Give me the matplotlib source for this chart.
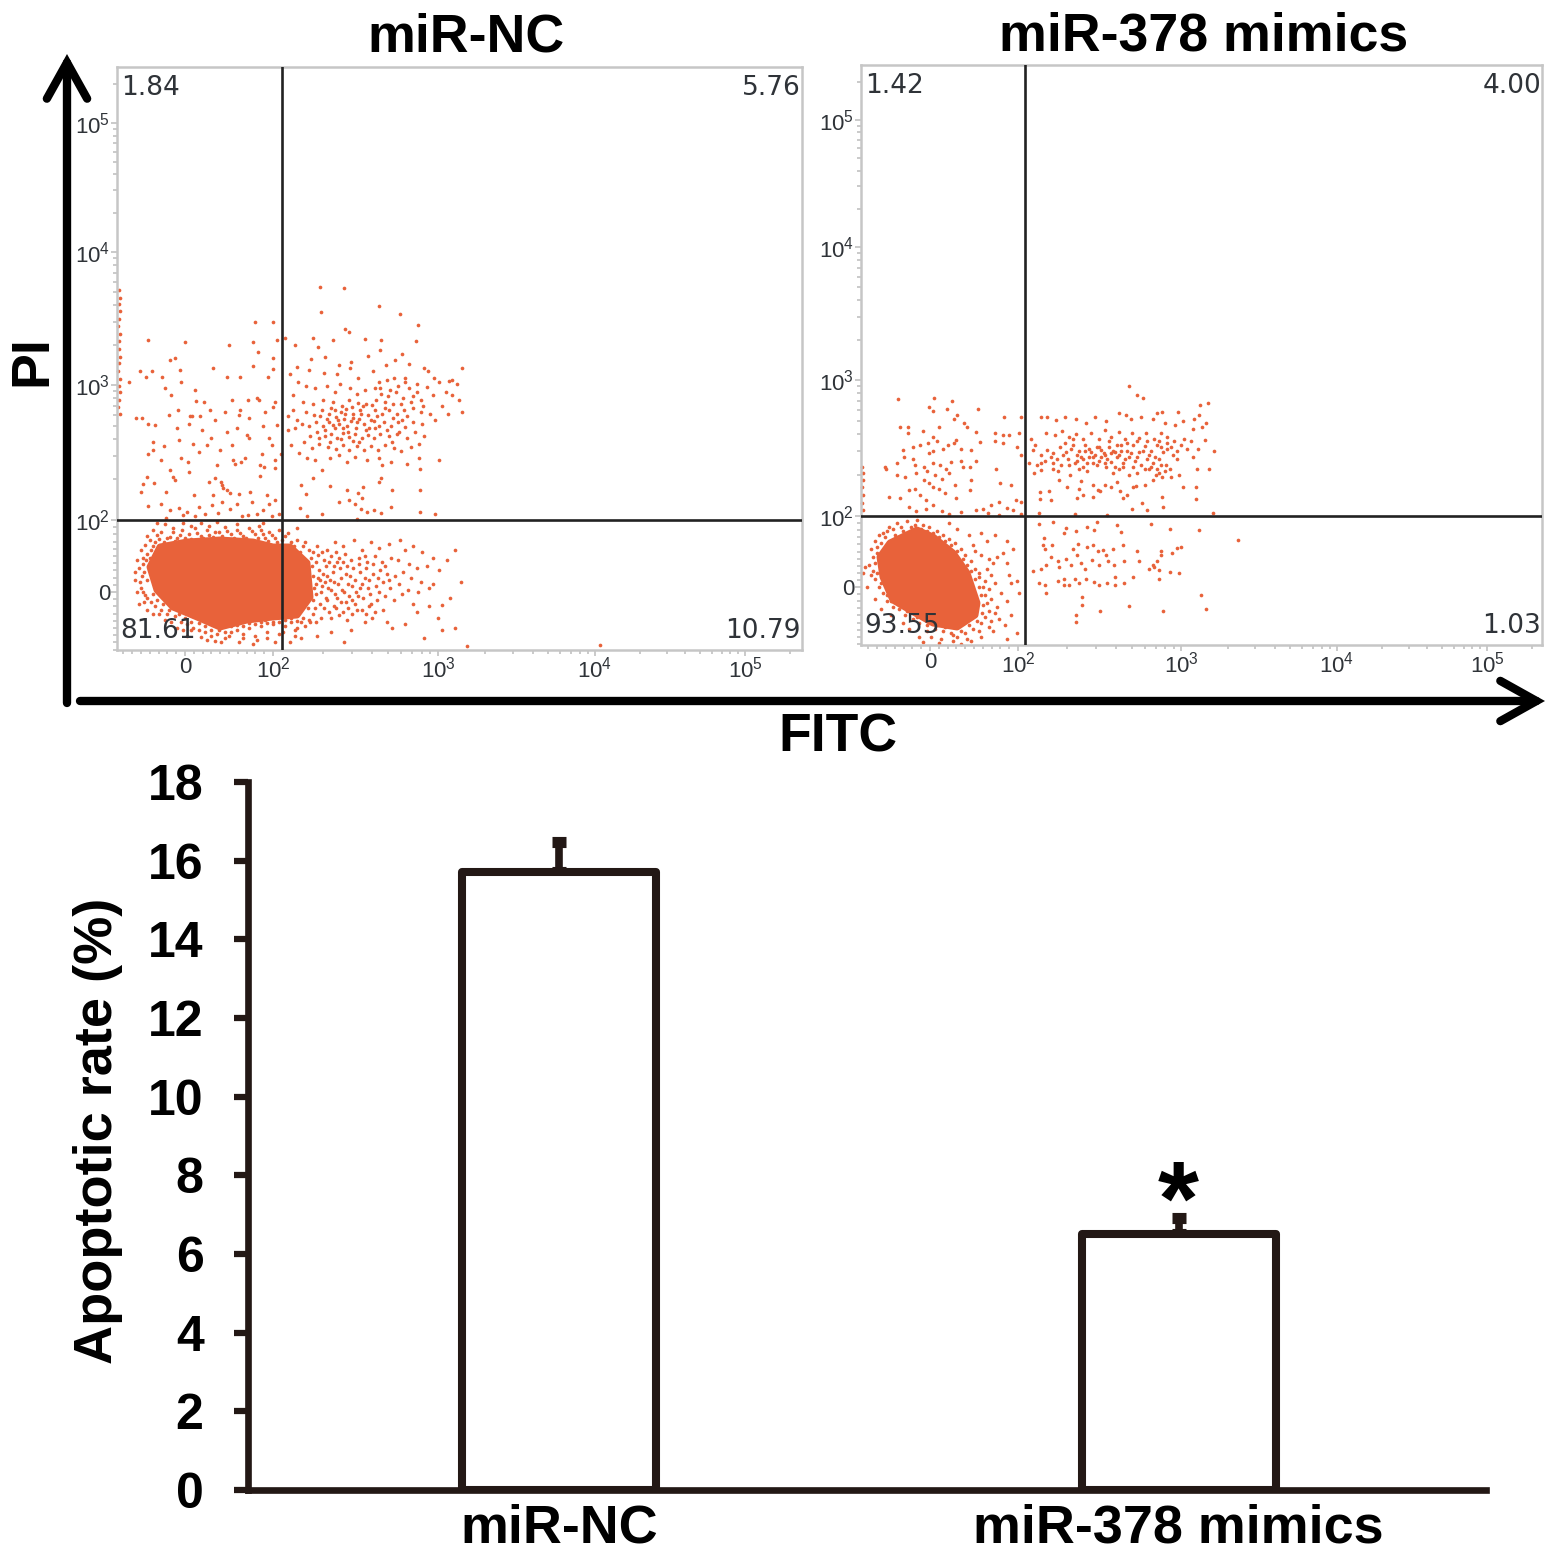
import numpy as np
import matplotlib
matplotlib.use("Agg")
import matplotlib.pyplot as plt
from matplotlib.patches import FancyArrowPatch

W, H = 1559, 1558

# Flow panels: values are display channels
nc_x_ticks = [68, 156, 321, 478, 628]
nc_y_ticks = [58, 130, 265, 398, 527]
mimic_x_ticks = [69, 157, 320, 476, 626]
mimic_y_ticks = [58, 129, 265, 398, 525]
x_tick_labels = ["0", "$10^{2}$", "$10^{3}$", "$10^{4}$", "$10^{5}$"]
y_tick_labels = ["0", "$10^{2}$", "$10^{3}$", "$10^{4}$", "$10^{5}$"]

nc_gate = (165, 130)
mimic_gate = (164, 129)
nc_percent = ["1.84", "5.76", "81.61", "10.79"]
mimic_percent = ["1.42", "4.00", "93.55", "1.03"]

# dense part of the population, as an outline
nc_core = [(33, 83), (43, 103), (70, 108), (103, 110), (136, 108), (156, 103), (173, 103), (190, 87),
           (193, 53), (180, 35), (156, 33), (130, 30), (103, 23), (80, 33), (56, 43), (40, 60)]
mimic_core = [(19, 88), (29, 102), (56, 115), (72, 108), (92, 92), (106, 72), (116, 42), (114, 30),
              (96, 18), (72, 22), (49, 35), (32, 45), (22, 68)]

nc_edge = [(2, 360), (3, 352), (2, 346), (3, 339), (2, 331), (1, 324), (3, 316), (2, 309), (2, 301), (3, 293),
           (2, 287), (1, 279), (3, 271), (2, 264), (3, 258), (2, 250), (1, 243), (3, 236)]
nc_upper_left = [(31, 310), (68, 308), (112, 305), (138, 328), (156, 328), (136, 308), (141, 298), (160, 310),
                 (53, 290), (58, 292), (23, 279), (35, 279), (29, 273), (45, 273), (63, 280), (96, 282),
                 (110, 273), (123, 273), (136, 284), (151, 273), (156, 292), (156, 281), (12, 268), (48, 262),
                 (54, 255), (64, 268), (78, 260), (79, 249), (87, 248), (93, 240), (115, 250), (123, 240),
                 (131, 250), (140, 252), (142, 250), (158, 248), (19, 232), (25, 232), (31, 226), (52, 235),
                 (61, 240), (73, 234), (75, 234), (83, 234), (98, 230), (108, 238), (122, 235), (132, 232),
                 (148, 238), (156, 243), (38, 225), (60, 222), (72, 226), (85, 220), (94, 212), (110, 218),
                 (120, 222), (130, 215), (132, 212), (146, 224), (152, 212), (160, 225), (36, 208), (36, 200),
                 (47, 204), (62, 210), (76, 206), (90, 205), (103, 200), (115, 205), (145, 196), (155, 205),
                 (31, 196), (44, 190), (64, 192), (71, 188), (82, 198), (100, 185), (116, 190), (118, 186),
                 (124, 188), (128, 192), (143, 185), (147, 183), (158, 190), (164, 196), (30, 173), (37, 167),
                 (53, 180), (56, 173), (58, 170), (72, 178), (92, 168), (98, 172), (104, 168), (110, 160),
                 (105, 165), (143, 174), (158, 182), (26, 166), (24, 158), (49, 158), (77, 155), (96, 155),
                 (106, 162), (113, 157), (122, 156), (133, 158), (150, 155), (44, 146), (53, 140), (62, 142),
                 (70, 138), (82, 143), (95, 145), (105, 148), (113, 141), (120, 146), (135, 148), (146, 140),
                 (152, 146), (158, 150), (162, 136), (31, 144), (49, 132), (66, 135), (78, 134), (88, 136),
                 (101, 137), (125, 134), (131, 135), (140, 136), (155, 134)]
nc_upper_right = [(203, 363), (227, 362), (204, 338), (228, 321), (262, 344), (283, 336), (168, 312), (178, 305),
                  (196, 312), (201, 303), (216, 310), (232, 318), (248, 311), (264, 310), (301, 325), (299, 309),
                  (263, 300), (251, 294), (234, 288), (222, 285), (208, 293), (194, 291), (180, 283), (173, 276),
                  (181, 268), (192, 280), (207, 277), (220, 276), (233, 282), (241, 272), (256, 279), (269, 285),
                  (278, 290), (285, 296), (292, 286), (307, 282), (311, 279), (317, 272), (288, 272), (277, 272),
                  (270, 270), (262, 268), (176, 255), (189, 264), (198, 262), (210, 264), (218, 258), (223, 266),
                  (233, 262), (240, 256), (248, 260), (258, 262), (264, 256), (273, 260), (281, 264), (292, 262),
                  (300, 266), (310, 263), (322, 268), (335, 270), (340, 266), (335, 255), (342, 250), (345, 238),
                  (316, 255), (304, 250), (296, 254), (286, 252), (276, 246), (268, 248), (259, 250), (249, 246),
                  (241, 247), (232, 250), (225, 244), (216, 248), (206, 250), (196, 246), (186, 248), (176, 240),
                  (171, 234), (180, 230), (189, 238), (197, 235), (205, 240), (212, 236), (219, 233), (224, 238),
                  (229, 241), (236, 236), (243, 240), (251, 235), (258, 240), (265, 236), (272, 240), (280, 236),
                  (287, 240), (296, 242), (304, 238), (313, 236), (325, 244), (331, 236), (171, 220), (178, 222),
                  (185, 226), (192, 224), (199, 228), (206, 224), (212, 228), (218, 222), (222, 226), (227, 231),
                  (230, 224), (234, 229), (239, 222), (242, 231), (247, 226), (252, 222), (257, 229), (262, 224),
                  (267, 228), (274, 224), (281, 228), (288, 223), (296, 228), (305, 226), (318, 230), (193, 214),
                  (200, 218), (208, 214), (214, 216), (220, 212), (226, 217), (232, 213), (238, 216), (245, 212),
                  (251, 215), (257, 212), (263, 216), (272, 214), (280, 216), (290, 212), (298, 218), (307, 214),
                  (187, 208), (195, 202), (202, 206), (211, 203), (219, 201), (226, 205), (232, 200), (240, 204),
                  (247, 200), (254, 204), (261, 200), (268, 205), (277, 202), (284, 199), (294, 203), (302, 206),
                  (174, 205), (182, 197), (190, 192), (198, 190), (213, 192), (222, 195), (230, 188), (238, 193),
                  (250, 190), (262, 192), (265, 185), (274, 188), (290, 186), (302, 192), (303, 181), (322, 190),
                  (184, 165), (189, 156), (196, 172), (205, 180), (213, 164), (230, 160), (241, 157), (246, 163),
                  (262, 168), (264, 172), (275, 160), (303, 160), (222, 148), (232, 150), (238, 146), (244, 141),
                  (250, 138), (257, 140), (245, 152), (183, 142), (190, 134), (205, 136), (240, 131), (264, 137),
                  (274, 143), (303, 138), (318, 136), (180, 122), (345, 282), (332, 269), (329, 258)]
nc_upper_right_dense = [(214, 242), (221, 230), (228, 236), (235, 243), (218, 240), (226, 222), (240, 228), (246, 244),
                        (254, 230), (210, 231), (203, 234), (231, 218), (224, 211), (236, 209), (249, 220), (260, 234),
                        (268, 242), (276, 232), (284, 246), (290, 234), (282, 218), (270, 220), (258, 222), (242, 208),
                        (216, 225), (208, 220), (202, 212), (213, 208), (236, 232), (244, 236), (255, 245), (263, 262),
                        (271, 254), (279, 258), (288, 268), (294, 248), (300, 258), (306, 244), (285, 230), (275, 208)]
nc_lower_right = [(192, 100), (200, 104), (210, 100), (218, 108), (226, 104), (237, 110), (245, 100), (254, 108),
                  (262, 102), (272, 106), (283, 110), (288, 100), (296, 104), (305, 98), (316, 92), (330, 90),
                  (338, 100), (194, 92), (201, 95), (207, 90), (214, 94), (220, 88), (228, 96), (234, 90),
                  (242, 92), (250, 88), (258, 94), (265, 88), (274, 92), (281, 90), (292, 86), (300, 82),
                  (310, 84), (322, 80), (195, 84), (202, 80), (209, 84), (216, 78), (223, 82), (229, 76),
                  (236, 82), (243, 78), (249, 82), (256, 76), (263, 80), (270, 76), (278, 74), (286, 78),
                  (294, 72), (304, 68), (196, 74), (203, 70), (210, 74), (217, 68), (224, 72), (231, 66),
                  (238, 70), (245, 66), (252, 70), (259, 64), (266, 68), (273, 62), (282, 66), (291, 60),
                  (301, 58), (312, 62), (197, 62), (204, 58), (211, 62), (218, 56), (225, 60), (232, 54),
                  (239, 58), (246, 52), (253, 56), (260, 50), (268, 54), (277, 50), (285, 56), (296, 46),
                  (316, 66), (196, 50), (203, 46), (210, 50), (217, 44), (224, 48), (231, 42), (238, 46),
                  (245, 40), (252, 44), (258, 38), (248, 28), (255, 32), (266, 40), (230, 30), (222, 35),
                  (212, 38), (204, 32), (196, 36), (188, 24), (178, 20), (184, 12), (200, 14), (214, 18),
                  (227, 8), (234, 20), (270, 28), (275, 22), (288, 26), (307, 12), (321, 32), (338, 22),
                  (325, 20), (300, 38), (344, 68), (333, 52), (325, 45), (312, 44), (350, 4), (483, 5)]
nc_lower_right_dense = [(196, 98), (199, 88), (205, 98), (206, 76), (212, 88), (213, 70), (219, 98), (222, 92),
                        (226, 88), (230, 84), (233, 74), (199, 66), (205, 64), (209, 52), (214, 60), (220, 52),
                        (221, 66), (227, 58), (229, 48), (235, 50), (235, 64), (241, 54), (243, 62), (248, 72),
                        (251, 62), (242, 86), (248, 94), (256, 86), (261, 72), (268, 84), (198, 42), (207, 42),
                        (214, 32), (219, 42), (226, 38), (235, 36), (199, 56), (201, 72), (208, 68), (217, 84),
                        (240, 40), (249, 36), (254, 46), (262, 58), (272, 70), (199, 28), (193, 28), (191, 42)]
nc_fringe = [(20, 90), (24, 100), (22, 82), (18, 70), (20, 58), (24, 62), (27, 48), (22, 46), (30, 40), (26, 92),
             (30, 96), (34, 100), (28, 105), (38, 108), (30, 114), (40, 115), (36, 120), (44, 118), (50, 112),
             (56, 118), (60, 112), (65, 120), (72, 116), (78, 122), (84, 114), (90, 120), (96, 113), (102, 118),
             (108, 123), (114, 116), (120, 120), (126, 114), (132, 122), (138, 116), (144, 120), (148, 112),
             (152, 118), (158, 112), (162, 120), (168, 114), (174, 108), (180, 110), (186, 104), (30, 70),
             (27, 78), (28, 55), (34, 48), (38, 44), (44, 40), (50, 36), (58, 34), (64, 28), (70, 26), (76, 22),
             (82, 20), (88, 18), (94, 14), (100, 16), (108, 12), (114, 18), (120, 20), (126, 16), (132, 22),
             (138, 14), (144, 24), (150, 18), (156, 26), (162, 16), (168, 24), (174, 28), (180, 22), (90, 10),
             (104, 8), (122, 8), (136, 6), (140, 10), (158, 8), (60, 22), (70, 14), (74, 20), (18, 78),
             (48, 126), (66, 127), (84, 127), (100, 128), (146, 127), (40, 127), (148, 30), (184, 28), (192, 30),
             (26, 86), (29, 90), (25, 74), (23, 68), (26, 58), (30, 52), (33, 92), (36, 104), (33, 110), (42, 111),
             (47, 108), (53, 113), (58, 109), (63, 115), (68, 112), (74, 111), (80, 117), (86, 112), (92, 115),
             (98, 118), (105, 114), (110, 119), (117, 112), (123, 117), (129, 112), (135, 119), (141, 112),
             (146, 116), (151, 109), (155, 115), (160, 108), (165, 110), (171, 117), (177, 104), (183, 98),
             (188, 108), (142, 124), (120, 126), (56, 122), (74, 124), (92, 124), (36, 56), (40, 50), (46, 46),
             (52, 40), (56, 42), (62, 36), (68, 32), (74, 28), (82, 27), (88, 24), (94, 20), (102, 20), (108, 18),
             (114, 24), (120, 25), (126, 24), (132, 27), (138, 26), (144, 28), (150, 27), (156, 28), (162, 28),
             (168, 30), (174, 32), (180, 29), (186, 32), (42, 36), (36, 36), (48, 30), (54, 28), (66, 20), (84, 13),
             (98, 9), (112, 14), (126, 12), (150, 12), (166, 18), (178, 14), (173, 8)]

mimic_edge = [(1, 178), (2, 172), (2, 165), (1, 158), (2, 150), (1, 142), (2, 135)]
mimic_upper_left = [(37, 246), (73, 247), (91, 244), (68, 238), (72, 234), (86, 236), (117, 236), (93, 226),
                    (96, 230), (103, 222), (143, 228), (160, 228), (39, 218), (47, 218), (47, 212), (62, 214),
                    (78, 218), (106, 218), (115, 213), (134, 212), (142, 210), (148, 210), (158, 212), (72, 208),
                    (76, 204), (67, 202), (52, 198), (59, 200), (42, 195), (68, 192), (72, 194), (82, 196),
                    (87, 200), (93, 202), (95, 205), (100, 196), (110, 195), (119, 203), (134, 204), (142, 202),
                    (156, 198), (160, 190), (25, 176), (24, 178), (36, 182), (43, 188), (52, 186), (54, 180),
                    (63, 178), (66, 174), (72, 182), (79, 180), (85, 176), (90, 183), (100, 184), (102, 178),
                    (109, 178), (115, 184), (135, 176), (36, 170), (44, 168), (55, 172), (63, 165), (68, 162),
                    (74, 170), (81, 166), (88, 172), (94, 160), (110, 165), (139, 162), (150, 160), (28, 148),
                    (39, 147), (48, 155), (54, 156), (59, 150), (65, 145), (72, 158), (78, 156), (84, 152),
                    (95, 147), (109, 155), (130, 140), (138, 143), (146, 137), (155, 145), (48, 138), (55, 134),
                    (65, 136), (72, 140), (81, 134), (88, 131), (100, 133), (115, 135), (122, 136), (127, 132),
                    (152, 135), (160, 131), (160, 143), (138, 130)]
mimic_upper_right = [(268, 259), (276, 250), (282, 247), (296, 232), (301, 233), (317, 233), (339, 240), (347, 242),
                     (338, 230), (333, 226), (345, 222), (341, 218), (180, 228), (186, 228), (195, 225), (204, 228),
                     (215, 226), (225, 222), (234, 228), (245, 224), (258, 232), (265, 230), (270, 226), (280, 228),
                     (292, 226), (304, 222), (314, 220), (322, 224), (332, 216), (170, 206), (174, 200), (185, 212),
                     (194, 210), (201, 214), (208, 208), (215, 211), (222, 206), (230, 212), (238, 206), (244, 215),
                     (250, 208), (258, 213), (264, 206), (271, 212), (278, 207), (285, 212), (293, 206), (300, 212),
                     (306, 208), (313, 204), (323, 206), (330, 204), (344, 205), (172, 195), (180, 190), (186, 195),
                     (192, 192), (199, 198), (205, 193), (212, 200), (218, 194), (224, 200), (230, 193), (236, 198),
                     (243, 192), (248, 198), (254, 193), (260, 200), (266, 194), (272, 200), (278, 193), (284, 199),
                     (290, 194), (296, 200), (302, 193), (310, 198), (316, 194), (326, 196), (337, 196), (353, 194),
                     (168, 182), (176, 180), (184, 184), (192, 182), (200, 180), (207, 186), (214, 182), (220, 188),
                     (226, 182), (232, 188), (238, 184), (244, 190), (250, 183), (256, 188), (262, 182), (268, 188),
                     (274, 184), (280, 180), (286, 186), (292, 182), (298, 186), (305, 180), (316, 186), (332, 188),
                     (173, 172), (180, 175), (197, 174), (209, 170), (218, 176), (226, 174), (245, 178), (252, 172),
                     (258, 176), (268, 170), (276, 172), (288, 176), (298, 172), (301, 168), (310, 168), (318, 170),
                     (336, 176), (348, 176), (198, 165), (220, 164), (244, 160), (256, 163), (272, 158), (284, 160),
                     (292, 165), (295, 170), (322, 158), (335, 158), (188, 154), (206, 158), (218, 156), (232, 160),
                     (237, 155), (250, 158), (259, 154), (266, 150), (275, 159), (301, 148), (335, 146), (179, 153),
                     (179, 146), (190, 145), (216, 147), (222, 150), (232, 148), (239, 154), (262, 147), (271, 136),
                     (281, 142), (302, 138), (286, 135), (352, 132), (178, 132), (214, 131), (246, 130)]
mimic_band = [(210, 196), (216, 190), (222, 186), (228, 196), (234, 190), (240, 195), (246, 186), (252, 194),
              (258, 190), (264, 186), (270, 192), (276, 188), (282, 194), (288, 190), (294, 188), (300, 198),
              (306, 196), (312, 190), (204, 202), (212, 206), (224, 194), (238, 198), (248, 204), (256, 200),
              (266, 202), (276, 204), (286, 204), (298, 204), (306, 202), (320, 200), (216, 184), (222, 178),
              (236, 180), (244, 182), (254, 178), (262, 178), (272, 178), (284, 176), (290, 178), (300, 180),
              (304, 174), (309, 176), (296, 176), (240, 188), (250, 192), (260, 194), (228, 188), (232, 182),
              (190, 188), (196, 186), (202, 190), (208, 180), (180, 182), (192, 176)]
mimic_lower_right = [(178, 121), (192, 123), (215, 114), (205, 117), (226, 118), (236, 123), (233, 115), (256, 120),
                     (260, 113), (290, 121), (309, 116), (338, 115), (183, 107), (182, 100), (184, 96), (191, 100),
                     (203, 112), (212, 96), (217, 101), (226, 98), (232, 100), (242, 95), (237, 94), (245, 90),
                     (252, 96), (262, 100), (276, 94), (300, 94), (300, 90), (311, 92), (316, 97), (320, 98),
                     (180, 76), (172, 74), (185, 80), (190, 88), (197, 84), (198, 78), (205, 86), (210, 80),
                     (216, 90), (220, 82), (224, 76), (231, 85), (238, 80), (247, 84), (253, 80), (263, 84),
                     (278, 84), (292, 80), (296, 84), (288, 76), (293, 78), (318, 72), (178, 62), (184, 60),
                     (197, 64), (203, 66), (208, 60), (214, 66), (218, 62), (225, 66), (233, 63), (238, 60),
                     (254, 68), (263, 62), (272, 68), (298, 66), (185, 52), (203, 60), (246, 62), (254, 60),
                     (221, 48), (221, 40), (239, 34), (268, 39), (302, 34), (340, 50), (345, 36), (215, 30),
                     (298, 75), (309, 73), (215, 23), (377, 105)]
mimic_fringe = [(2, 72), (4, 78), (8, 80), (10, 96), (12, 88), (14, 104), (16, 98), (18, 110), (22, 112), (28, 118),
                (24, 108), (32, 116), (36, 122), (40, 118), (46, 124), (50, 118), (56, 125), (62, 120), (68, 118),
                (76, 114), (82, 110), (88, 106), (94, 102), (100, 96), (104, 90), (110, 84), (114, 76), (118, 68),
                (122, 58), (124, 50), (126, 42), (128, 34), (124, 28), (120, 22), (112, 16), (104, 12), (96, 8),
                (90, 12), (82, 14), (74, 16), (66, 14), (58, 22), (52, 26), (44, 30), (38, 36), (32, 38), (26, 44),
                (22, 52), (18, 58), (14, 66), (12, 74), (10, 70), (134, 62), (140, 52), (146, 44), (136, 38),
                (130, 24), (138, 26), (144, 20), (132, 14), (120, 8), (106, 6), (92, 4), (80, 6), (70, 8), (110, 4),
                (118, 72), (126, 76), (132, 82), (128, 86), (120, 90), (114, 94), (136, 88), (142, 92), (130, 70),
                (148, 70), (150, 62), (156, 64), (146, 82), (152, 96), (158, 52), (150, 30), (156, 12), (146, 6),
                (112, 100), (120, 112), (134, 110), (126, 104), (146, 104), (108, 110), (96, 116), (88, 122),
                (58, 8), (62, 3), (78, 2), (100, 1), (48, 16), (42, 22), (30, 30), (20, 36), (14, 46), (6, 58),
                (16, 92), (20, 102), (24, 96), (26, 114), (34, 110), (42, 114), (48, 112), (54, 120), (60, 116),
                (66, 114), (72, 112), (78, 108), (84, 104), (90, 100), (96, 94), (102, 86), (106, 80), (110, 74),
                (114, 66), (118, 58), (120, 50), (122, 40), (121, 32), (116, 24), (108, 20), (100, 14), (92, 10),
                (84, 18), (76, 20), (66, 20), (56, 28), (46, 34), (38, 40), (30, 44), (26, 50), (20, 62), (16, 72),
                (14, 82), (18, 84), (124, 64), (128, 56), (130, 46), (134, 32), (128, 18), (118, 14)]

# Bar chart
categories = ["miR-NC", "miR-378 mimics"]
apoptotic_rate = [15.7, 6.5]
rate_error = [0.78, 0.42]
rate_ticks = [0, 2, 4, 6, 8, 10, 12, 14, 16, 18]

DOT = "#E8623A"
INK = "#231815"
TEXT = "#2f3338"
GREY = "#c6c6c6"

plt.rcParams['font.family'] = ['Liberation Sans', 'DejaVu Sans']
plt.rcParams['mathtext.default'] = 'regular'


def px_axes(fig, left, top, right, bottom):
    # axes from pixel box of the reference
    return fig.add_axes([left / W, 1 - bottom / H, (right - left) / W, (bottom - top) / H])


def minor_ticks(major, limit):
    # linear below 10^2, log spacing above, like the cytometer axis
    step = (major[1] - major[0]) / 10
    out = list(np.arange(major[1] - step, 0, -step))
    for i in range(1, len(major)):
        span = major[i] - major[i - 1] if i == len(major) - 1 else major[i + 1] - major[i]
        for k in range(2, 10):
            out.append(major[i] + np.log10(k) * span)
    return [v for v in out if 0 < v < limit and v not in major]


def flow_panel(fig, box, x_ticks, y_ticks, gate, percent, core, groups):
    ax = px_axes(fig, *box)
    width = box[2] - box[0]
    height = box[3] - box[1]
    ax.set_xlim(0, width)
    ax.set_ylim(0, height)

    outline = np.array(core, dtype=float)
    ax.fill(outline[:, 0], outline[:, 1], facecolor=DOT, edgecolor=DOT, lw=5, joinstyle='round', zorder=2)
    for group in groups:
        pts = np.array(group, dtype=float)
        ax.scatter(pts[:, 0], pts[:, 1], s=7, color=DOT, linewidths=0, zorder=2, clip_on=False)

    ax.axvline(gate[0], color="#222222", lw=1.9, zorder=3)
    ax.axhline(gate[1], color="#222222", lw=1.9, zorder=3)

    ax.set_xticks(x_ticks)
    ax.set_xticklabels(x_tick_labels)
    ax.set_yticks(y_ticks)
    ax.set_yticklabels(y_tick_labels)
    ax.set_xticks(minor_ticks(x_ticks, width), minor=True)
    ax.set_yticks(minor_ticks(y_ticks, height), minor=True)
    ax.tick_params(which='major', length=4, width=1.3, color=GREY, labelsize=16, labelcolor=TEXT, pad=1)
    ax.tick_params(which='minor', length=3, width=1.3, color=GREY)
    for spine in ax.spines.values():
        spine.set_color(GREY)
        spine.set_linewidth(1.8)

    ax.text(4, height - 21, percent[0], fontsize=19, color=TEXT, family='DejaVu Sans', va='center')
    ax.text(width - 1, height - 21, percent[1], fontsize=19, color=TEXT, family='DejaVu Sans', va='center', ha='right')
    ax.text(3, 19, percent[2], fontsize=19, color=TEXT, family='DejaVu Sans', va='center', zorder=4)
    ax.text(width - 1, 19, percent[3], fontsize=19, color=TEXT, family='DejaVu Sans', va='center', ha='right')
    return ax


fig = plt.figure(figsize=(W / 100, H / 100), dpi=100)

flow_panel(fig, (117, 67, 802, 650), nc_x_ticks, nc_y_ticks, nc_gate, nc_percent, nc_core,
           [nc_edge, nc_upper_left, nc_upper_right, nc_upper_right_dense, nc_lower_right, nc_lower_right_dense, nc_fringe])
flow_panel(fig, (861, 65, 1542, 645), mimic_x_ticks, mimic_y_ticks, mimic_gate, mimic_percent, mimic_core,
           [mimic_edge, mimic_upper_left, mimic_upper_right, mimic_band, mimic_lower_right, mimic_fringe])

# overlay in pixel coordinates for arrows and panel headings
overlay = fig.add_axes([0, 0, 1, 1], zorder=5)
overlay.set_xlim(0, W)
overlay.set_ylim(H, 0)
overlay.axis('off')
overlay.patch.set_alpha(0)

arrow_style = '->,head_length=2.6,head_width=1.45'
overlay.add_patch(FancyArrowPatch((67, 703), (67, 54), arrowstyle=arrow_style, mutation_scale=10, lw=6,
                                  color="black", shrinkA=0, shrinkB=0, joinstyle='miter'))
overlay.add_patch(FancyArrowPatch((80, 701), (1545, 701), arrowstyle=arrow_style, mutation_scale=10, lw=6,
                                  color="black", shrinkA=0, shrinkB=0, joinstyle='miter'))

overlay.text(466, 37, "miR-NC", fontsize=38.7, fontweight='bold', ha='center', va='center', color='black')
overlay.text(1204, 36, "miR-378 mimics", fontsize=38.7, fontweight='bold', ha='center', va='center', color='black')
overlay.text(32, 361, "PI", fontsize=38.7, fontweight='bold', rotation=90, ha='center', va='center', color='black')
overlay.text(838, 737, "FITC", fontsize=38.5, fontweight='bold', ha='center', va='center', color='black')

# Apoptotic rate bars
ax = px_axes(fig, 248, 782, 1486, 1490)
positions = [0, 1]
ax.bar(positions, apoptotic_rate, width=0.313, facecolor='white', edgecolor=INK, linewidth=5.8, joinstyle='round', zorder=3)
ax.errorbar(positions, apoptotic_rate, yerr=[[0, 0], rate_error], fmt='none', ecolor=INK, elinewidth=5.5,
            capsize=5, capthick=8, zorder=2)
ax.set_xlim(-0.502, 1.496)
ax.set_ylim(0, 18)
ax.set_xticks(positions)
ax.set_xticklabels(categories, fontsize=38.8, fontweight='bold')
ax.set_yticks(rate_ticks)
ax.set_yticklabels([str(v) for v in rate_ticks], fontsize=36, fontweight='bold')
ax.set_ylabel("Apoptotic rate (%)", fontsize=39, fontweight='bold', labelpad=18, y=0.508)
ax.tick_params(axis='x', length=0, pad=10)
ax.tick_params(axis='y', length=10, width=4.5, color=INK, pad=22)
ax.spines[['top', 'right']].set_visible(False)
ax.spines[['left', 'bottom']].set_color(INK)
ax.spines[['left', 'bottom']].set_linewidth(4.8)
ax.text(1, 7.2, "*", fontsize=76, fontweight='bold', ha='center', va='center', color='black')

fig.savefig("out.png", dpi=100)
